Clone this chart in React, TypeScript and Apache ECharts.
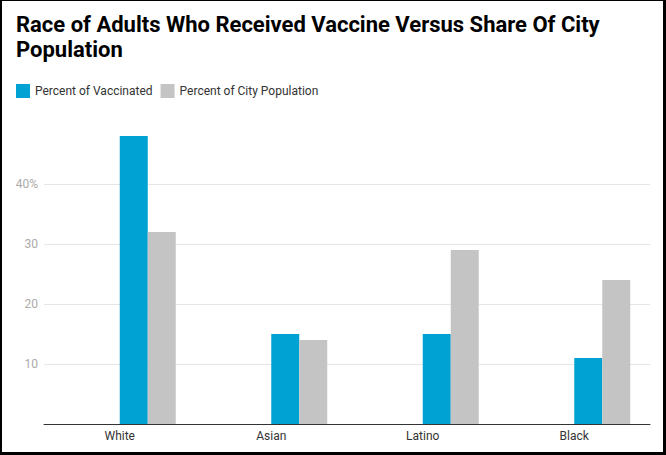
import React, { useEffect, useRef } from "react";
import * as echarts from "echarts";

const titleText = "Race of Adults Who Received Vaccine Versus Share Of City\nPopulation";
const categories = ["White", "Asian", "Latino", "Black"];
const seriesNames = ["Percent of Vaccinated", "Percent of City Population"];
const vaccinated = [48, 15, 15, 11];
const cityPopulation = [32, 14, 29, 24];
const yTicks = [0, 10, 20, 30, 40, 50];

export default function App() {
  const ref = useRef<HTMLDivElement>(null);
  useEffect(() => {
    document.body.style.margin = "0";
    const chart = echarts.init(ref.current!, null, { renderer: "svg" });
    chart.setOption({
      animation: false,
      backgroundColor: "#ffffff",
      textStyle: { fontFamily: "Roboto" },
      title: {
        text: titleText,
        left: 11,
        top: 7,
        textStyle: {
          fontFamily: "Roboto",
          fontSize: 22,
          fontWeight: "bold",
          color: "#000000",
          lineHeight: 25,
        },
      },
      legend: {
        data: seriesNames,
        left: 16,
        top: 84,
        padding: 0,
        itemWidth: 14,
        itemHeight: 14,
        itemGap: 8,
        icon: "rect",
        textStyle: { fontFamily: "Roboto", fontSize: 12, color: "#333333" },
      },
      grid: { left: 44, right: 16, top: 124, bottom: 31, containLabel: false },
      xAxis: {
        type: "category",
        data: categories,
        axisTick: { show: false },
        axisLine: { lineStyle: { color: "#333333", width: 1 } },
        axisLabel: { color: "#333333", fontSize: 12, fontFamily: "Roboto", margin: 6 },
      },
      yAxis: {
        type: "value",
        min: yTicks[0],
        max: yTicks[yTicks.length - 1],
        interval: 10,
        axisLine: { show: false },
        axisTick: { show: false },
        axisLabel: {
          color: "#aaaaaa",
          fontSize: 12,
          fontFamily: "Roboto",
          margin: 6,
          showMinLabel: false,
          showMaxLabel: false,
          formatter: (v: number) => (v === 40 ? "40%" : String(v)),
        },
        splitLine: {
          show: true,
          showMinLine: false,
          showMaxLine: false,
          lineStyle: { color: "#e6e6e6", width: 1 },
        },
      },
      series: [
        { name: "_a", type: "bar", data: [], barWidth: 28, barGap: 0 },
        { name: "_b", type: "bar", data: [], barWidth: 28, barGap: 0 },
        {
          name: seriesNames[0],
          type: "bar",
          data: vaccinated,
          barWidth: 28,
          barGap: 0,
          itemStyle: { color: "#00a2d4" },
        },
        {
          name: seriesNames[1],
          type: "bar",
          data: cityPopulation,
          barWidth: 28,
          barGap: 0,
          itemStyle: { color: "#c4c4c4" },
        },
      ],
    });
    return () => chart.dispose();
  }, []);
  return (
    <div style={{ position: "relative", width: 666, height: 455 }}>
      <div ref={ref} style={{ width: 666, height: 455 }} />
      <div
        style={{
          position: "absolute",
          left: 0,
          top: 0,
          width: 666,
          height: 455,
          boxSizing: "border-box",
          borderTop: "1px solid #000",
          borderLeft: "2px solid #000",
          borderRight: "3px solid #000",
          borderBottom: "3px solid #000",
          pointerEvents: "none",
        }}
      />
    </div>
  );
}
